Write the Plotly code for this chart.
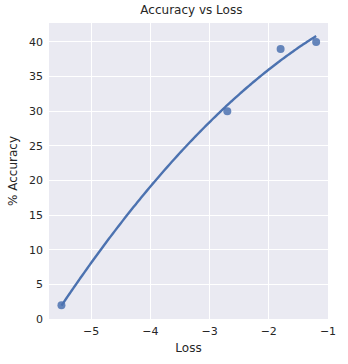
import numpy as np
import plotly.graph_objects as go

loss = [-5.5, -2.7, -1.8, -1.2]
accuracy = [2, 30, 39, 40]

# second-order regression line (as seaborn regplot order=2)
coef = np.polyfit(loss, accuracy, 2)
xs = np.linspace(min(loss), max(loss), 100)
ys = np.polyval(coef, xs)

fig = go.Figure()
fig.add_trace(go.Scatter(x=xs, y=ys, mode="lines",
                         line=dict(color="#4C72B0", width=2.4, shape="spline"), hoverinfo="skip"))
fig.add_trace(go.Scatter(x=loss, y=accuracy, mode="markers",
                         marker=dict(color="rgba(76,114,176,0.85)", size=8, line=dict(width=0))))

fig.update_layout(
    width=348, height=364,
    margin=dict(l=49, r=15, t=23, b=44),
    paper_bgcolor="white", plot_bgcolor="#EAEAF2",
    showlegend=False,
    font=dict(family="DejaVu Sans", size=11, color="#262626"),
    title=dict(text="Accuracy vs Loss", x=0.55, xanchor="center", y=0.985, yanchor="top",
               font=dict(family="DejaVu Sans", size=12, color="#262626")),
)
fig.update_xaxes(range=[-5.71, -1], tickvals=[-5, -4, -3, -2, -1], gridcolor="white",
                 gridwidth=1, zeroline=False, showline=False, ticks="",
                 ticklabelstandoff=4,
                 title=dict(text="Loss", font=dict(size=12), standoff=6),
                 tickfont=dict(size=11))
fig.update_yaxes(range=[0, 42.74], tickvals=list(range(0, 45, 5)), gridcolor="white",
                 gridwidth=1, zeroline=False, showline=False, ticks="",
                 ticklabelstandoff=5,
                 title=dict(text="% Accuracy", font=dict(size=12), standoff=8),
                 tickfont=dict(size=11))
fig.write_html("out.html")
